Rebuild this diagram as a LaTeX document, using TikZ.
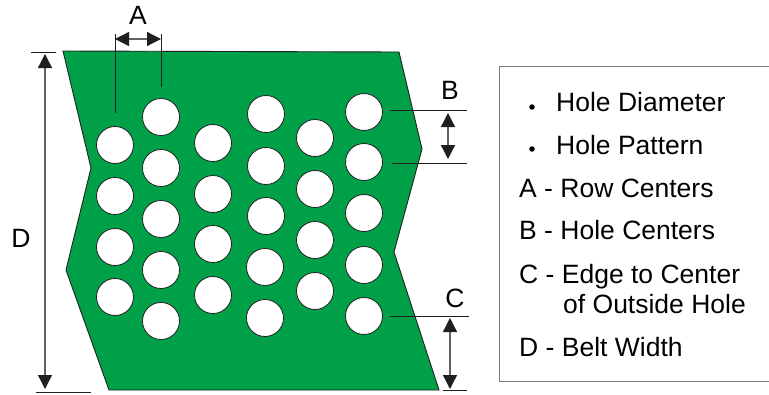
\documentclass[tikz,border=0pt]{standalone}
\usepackage{fontspec}
\setmainfont{Liberation Sans}
\usetikzlibrary{arrows.meta}
\definecolor{beltgreen}{RGB}{0,160,72}
\definecolor{dimgray}{RGB}{35,31,32}

\tikzset{
  hole/.style={draw=dimgray, line width=0.8pt, fill=white, circle, inner sep=0pt, minimum size=37pt},
  dimline/.style={draw=dimgray, line width=0.9pt},
  boxline/.style={draw=dimgray!60, line width=1pt},
  dimarrow/.style={draw=dimgray!70, line width=1.3pt, {Triangle[length=14pt,width=14pt,color=dimgray]}-{Triangle[length=14pt,width=14pt,color=dimgray]}},
  letter/.style={font=\fontsize{26.5pt}{30pt}\selectfont, inner sep=0pt},
  legendtext/.style={font=\fontsize{26.5pt}{30pt}\selectfont, inner sep=0pt, anchor=base west},
  legenddot/.style={fill=black, circle, inner sep=0pt, minimum size=5.5pt}
}

\begin{document}
\begin{tikzpicture}[x=1pt, y=-1pt]
      \useasboundingbox (0,0) rectangle (769,394);

      % belt
      \draw[fill=beltgreen, draw=dimgray, line width=0.9pt] (63,51) -- (399,52) -- (422,149) -- (394,252) -- (439,390) -- (109,390) -- (66,270) -- (91,168) -- cycle;

      % holes
      \node (h11) [hole] at (115,145) {};
      \node (h12) [hole] at (115,196) {};
      \node (h13) [hole] at (115,247) {};
      \node (h14) [hole] at (115,297) {};
      \node (h21) [hole] at (161,117) {};
      \node (h22) [hole] at (161,168) {};
      \node (h23) [hole] at (161,219) {};
      \node (h24) [hole] at (161,270) {};
      \node (h25) [hole] at (161,321) {};
      \node (h31) [hole] at (213,143) {};
      \node (h32) [hole] at (213,194) {};
      \node (h33) [hole] at (213,244) {};
      \node (h34) [hole] at (213,295) {};
      \node (h41) [hole] at (266,114) {};
      \node (h42) [hole] at (266,166) {};
      \node (h43) [hole] at (266,216) {};
      \node (h44) [hole] at (265,267) {};
      \node (h45) [hole] at (265,318) {};
      \node (h51) [hole] at (315,138) {};
      \node (h52) [hole] at (315,189) {};
      \node (h53) [hole] at (315,240) {};
      \node (h54) [hole] at (315,291) {};
      \node (h61) [hole] at (364,112) {};
      \node (h62) [hole] at (364,162) {};
      \node (h63) [hole] at (364,213) {};
      \node (h64) [hole] at (364,265) {};
      \node (h65) [hole] at (364,316) {};

      % dimension A
      \coordinate (atl) at (115,34);
      \coordinate (atr) at (161,34);
      \coordinate (abl) at (115,113);
      \coordinate (abr) at (161,87);
      \coordinate (aarl) at (115,39);
      \coordinate (aarr) at (161,39);
      \draw[dimline] (atl) -- (abl);
      \draw[dimline] (atr) -- (abr);
      \draw[dimarrow] (aarl) -- (aarr);
      \node (labela) [letter] at (138,15) {A};

      % dimension B
      \coordinate (bl1) at (390,110);
      \coordinate (br1) at (467,110);
      \coordinate (bl2) at (392,163);
      \coordinate (br2) at (467,163);
      \coordinate (bar1) at (448,113);
      \coordinate (bar2) at (448,159);
      \draw[dimline] (bl1) -- (br1);
      \draw[dimline] (bl2) -- (br2);
      \draw[dimarrow] (bar1) -- (bar2);
      \node (labelb) [letter] at (450,90) {B};

      % dimension C
      \coordinate (cl1) at (390,316);
      \coordinate (cr1) at (469,316);
      \coordinate (cl2) at (443,390);
      \coordinate (cr2) at (467,390);
      \coordinate (car1) at (450,318);
      \coordinate (car2) at (450,389);
      \draw[dimline] (cl1) -- (cr1);
      \draw[dimline] (cl2) -- (cr2);
      \draw[dimarrow] (car1) -- (car2);
      \node (labelc) [letter] at (455,298) {C};

      % dimension D
      \coordinate (dl1) at (31,52.5);
      \coordinate (dr1) at (56,52.5);
      \coordinate (dl2) at (36,392);
      \coordinate (dr2) at (91,392);
      \coordinate (dar1) at (45,54);
      \coordinate (dar2) at (45,389);
      \draw[dimline] (dl1) -- (dr1);
      \draw[dimline] (dl2) -- (dr2);
      \draw[dimarrow] (dar1) -- (dar2);
      \node (labeld) [letter] at (21,238) {D};

      % legend
      \coordinate (boxtr) at (769,66);
      \coordinate (boxtl) at (499,66);
      \coordinate (boxbl) at (499,381);
      \coordinate (boxbr) at (769,381);
      \draw[boxline] (boxtr) -- (boxtl) -- (boxbl) -- (boxbr);
      \node (dot1) [legenddot] at (532,107) {};
      \node (dot2) [legenddot] at (532,149) {};
      \node (item1) [legendtext] at (556,111) {Hole Diameter};
      \node (item2) [legendtext] at (556,154) {Hole Pattern};
      \node (item3) [legendtext] at (519,197) {A - Row Centers};
      \node (item4) [legendtext] at (519,239) {B - Hole Centers};
      \node (item5) [legendtext] at (519,283) {C - Edge to Center};
      \node (item6) [legendtext] at (563,313) {of Outside Hole};
      \node (item7) [legendtext] at (519,356) {D - Belt Width};
    \end{tikzpicture}
\end{document}
